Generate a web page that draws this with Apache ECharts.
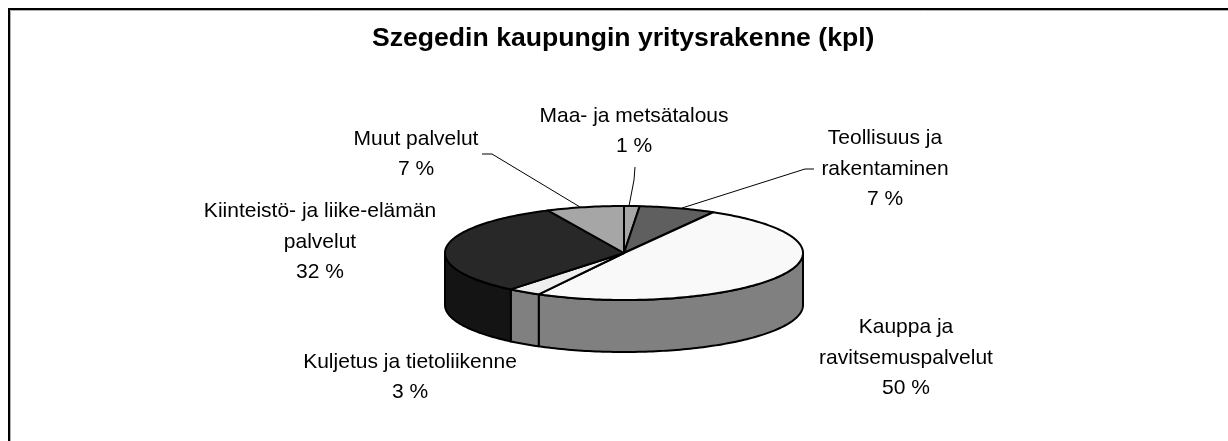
<!DOCTYPE html>
<html>
<head>
<meta charset="utf-8">
<style>html,body{margin:0;padding:0;background:#fff}#c{width:1228px;height:441px}</style>
<script src="https://cdn.jsdelivr.net/npm/echarts@6/dist/echarts.min.js"></script>
</head>
<body>
<div id="c"></div>
<script>
const chartTitle = 'Szegedin kaupungin yritysrakenne (kpl)';
const categories = ['Maa- ja metsätalous', 'Teollisuus ja\nrakentaminen', 'Kauppa ja\nravitsemuspalvelut', 'Kuljetus ja tietoliikenne', 'Kiinteistö- ja liike-elämän\npalvelut', 'Muut palvelut'];
const shares = [1.4, 6.9, 49.6, 3.0, 32.1, 7.0];
const percentLabels = ['1 %', '7 %', '50 %', '3 %', '32 %', '7 %'];

const topColors = ['#a6a6a6', '#5f5f5f', '#f9f9f9', '#eeeeee', '#282828', '#a6a6a6'];
const sideColors = ['#808080', '#808080', '#808080', '#808080', '#141414', '#808080'];
const labelCentres = [[634, 131], [885, 169], [906, 358], [410, 377], [320, 242], [416, 154]];
const leaders = [
  [[635, 167], [634, 180], [629, 206]],
  [[814, 169], [805, 169], [682, 208]],
  null, null, null,
  [[482, 154], [492, 154], [580, 207]]
];
const pie = { cx: 624, cy: 253, rx: 179, ry: 47, depth: 52 };

const total = shares.reduce((a, b) => a + b, 0);
const toXY = (t, dy) => [pie.cx + pie.rx * Math.sin(t), pie.cy - pie.ry * Math.cos(t) + (dy || 0)];
function arc(a, b, dy) {
  const pts = [], n = Math.max(2, Math.ceil((b - a) / 0.02));
  for (let i = 0; i <= n; i++) pts.push(toXY(a + (b - a) * i / n, dy));
  return pts;
}
let cum = 0;
const tableRows = shares.map((v, i) => {
  const s = cum; cum += v;
  return [s / total * 2 * Math.PI, cum / total * 2 * Math.PI, i];
});
const lineStyle = { stroke: '#000', lineWidth: 2, lineJoin: 'round' };

const chart = echarts.init(document.getElementById('c'), null, { renderer: 'canvas' });
chart.setOption({
  animation: false,
  backgroundColor: '#fff',
  title: {
    text: chartTitle, left: 372, top: 25, padding: 0,
    textStyle: { fontFamily: 'Liberation Sans', fontSize: 26.6, fontWeight: 'bold', color: '#000' }
  },
  graphic: [
    { type: 'polyline', shape: { points: [[9, 441], [9, 9], [1228, 9]] }, style: { stroke: '#000', lineWidth: 2, fill: null } },
    { type: 'polyline', shape: { points: [[10.5, 441], [10.5, 10.5], [1228, 10.5]] }, style: { stroke: '#b0b0b0', lineWidth: 1, fill: null } }
  ],
  series: [
    { // side walls
      type: 'custom', coordinateSystem: 'none', silent: true, z: 1, data: tableRows,
      renderItem(p, api) {
        const a = api.value(0), b = api.value(1), i = api.value(2);
        const lo = Math.max(a, Math.PI / 2), hi = Math.min(b, 3 * Math.PI / 2);
        if (hi <= lo) return { type: 'group', children: [] };
        const top = arc(lo, hi, 0), bot = arc(lo, hi, pie.depth).reverse();
        return { type: 'polygon', shape: { points: top.concat(bot) },
          style: Object.assign({ fill: sideColors[i] }, lineStyle) };
      }
    },
    { // top faces
      type: 'custom', coordinateSystem: 'none', silent: true, z: 2, data: tableRows,
      renderItem(p, api) {
        const a = api.value(0), b = api.value(1), i = api.value(2);
        return { type: 'polygon', shape: { points: [[pie.cx, pie.cy]].concat(arc(a, b, 0)) },
          style: Object.assign({ fill: topColors[i] }, lineStyle) };
      }
    },
    { // labels and leader lines
      type: 'custom', coordinateSystem: 'none', silent: true, z: 3, data: tableRows,
      renderItem(p, api) {
        const i = api.value(2), c = labelCentres[i], children = [];
        children.push({ type: 'text', style: {
          x: c[0], y: c[1], text: categories[i] + '\n' + percentLabels[i],
          align: 'center', verticalAlign: 'middle',
          fontFamily: 'Liberation Sans', fontSize: 21, lineHeight: 30.5, fill: '#000' } });
        if (leaders[i]) children.push({ type: 'polyline', shape: { points: leaders[i] },
          style: { stroke: '#000', lineWidth: 1, fill: null } });
        return { type: 'group', children };
      }
    }
  ]
});
</script>
</body>
</html>
